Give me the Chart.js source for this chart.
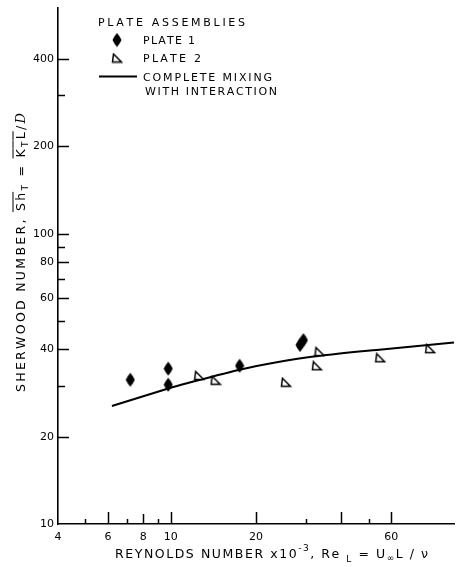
<!DOCTYPE html>
<html>
<head>
<meta charset="utf-8">
<script src="https://cdn.jsdelivr.net/npm/chart.js@4.4.0/dist/chart.umd.min.js"></script>
<style>
    html, body { margin: 0; padding: 0; background: #fff; }
    canvas { display: block; }
</style>
</head>
<body>
<canvas id="sherwood_canvas" width="462" height="567"></canvas>
<script>
// values (Re x 10^-3, Sh)
const plate_1_re = [7.2, 9.8, 9.8, 17.5, 28.6, 29.4];
const plate_1_sh = [31.4, 34.3, 30.2, 35.1, 41.4, 43.0];

const plate_2_re = [12.6, 14.4, 25.5, 32.8, 33.5, 54.9, 82.4];
const plate_2_sh = [32.5, 31.3, 30.8, 35.1, 39.3, 37.4, 40.2];

const mixing_re = [6.2, 9.8, 11.5, 17.5, 23.4, 33.1, 53.3, 100];
const mixing_sh = [25.5, 29.3, 30.6, 34.0, 36.0, 37.9, 39.8, 42.2];

const x_tick_values = [4, 5, 6, 7, 8, 9, 10, 20, 30, 40, 50, 60];
const x_tick_labels = [4, 6, 8, 10, 20, 60];
const y_tick_values = [10, 20, 30, 40, 50, 60, 70, 80, 90, 100, 200, 300, 400];
const y_tick_labels = [10, 20, 40, 60, 80, 100, 200, 400];

const text_font = "'DejaVu Sans', sans-serif";

function to_points(xs, ys) {
    return xs.map((x, i) => ({x: x, y: ys[i]}));
}

function make_diamond() {
    const c = document.createElement('canvas');
    c.width = 10;
    c.height = 15;
    const g = c.getContext('2d');
    g.beginPath();
    g.moveTo(5, 0.5);
    g.quadraticCurveTo(8, 4, 9.5, 7.5);
    g.quadraticCurveTo(8, 11, 5, 14.5);
    g.quadraticCurveTo(2, 11, 0.5, 7.5);
    g.quadraticCurveTo(2, 4, 5, 0.5);
    g.closePath();
    g.fillStyle = '#000';
    g.fill();
    return c;
}

function make_triangle() {
    const c = document.createElement('canvas');
    c.width = 12;
    c.height = 11;
    const g = c.getContext('2d');
    g.beginPath();
    g.moveTo(2.5, 1.5);
    g.lineTo(1.5, 9.5);
    g.lineTo(10.5, 9.5);
    g.closePath();
    g.fillStyle = '#fff';
    g.fill();
    g.strokeStyle = '#000';
    g.lineWidth = 1.5;
    g.stroke();
    return c;
}

const diamond_img = make_diamond();
const triangle_img = make_triangle();

// draws text segments char by char, spaced out so that the whole run spans `span` px
function draw_spaced(ctx, parts, x, y, span) {
    let plain = 0;
    let count = 0;
    for (const p of parts) {
        ctx.font = p.font;
        for (const ch of p.text) {
            plain += ctx.measureText(ch).width;
            count += 1;
        }
    }
    const gap = count > 1 ? (span - plain) / (count - 1) : 0;
    let cx = x;
    for (const p of parts) {
        ctx.font = p.font;
        const start = cx;
        for (const ch of p.text) {
            ctx.fillText(ch, cx, y + (p.dy || 0));
            cx += ctx.measureText(ch).width + gap;
        }
        if (p.over) {
            ctx.beginPath();
            ctx.moveTo(start - 1, y - 12);
            ctx.lineTo(cx - gap + 1, y - 12);
            ctx.stroke();
        }
    }
}

const sherwood_decorations = {
    id: 'sherwood_decorations',
    afterDraw(chart) {
        const ctx = chart.ctx;
        const area = chart.chartArea;
        const x_scale = chart.scales.x;
        const y_scale = chart.scales.y;

        ctx.save();
        ctx.strokeStyle = '#000';
        ctx.fillStyle = '#000';
        ctx.lineWidth = 1.5;

        // inward tick marks
        for (const v of x_tick_values) {
            if (v === x_scale.min) {continue;}
            let len = 5;
            if ([6, 10, 20, 40, 60].includes(v)) {len = 12;}
            if (v === 8) {len = 10;}
            const px = Math.round(x_scale.getPixelForValue(v)) + 0.5;
            ctx.beginPath();
            ctx.moveTo(px, area.bottom);
            ctx.lineTo(px, area.bottom - len);
            ctx.stroke();
        }
        for (const v of y_tick_values) {
            if (v === y_scale.min) {continue;}
            const len = y_tick_labels.includes(v) ? 11 : 7;
            const py = Math.round(y_scale.getPixelForValue(v)) + 0.5;
            ctx.beginPath();
            ctx.moveTo(area.left, py);
            ctx.lineTo(area.left + len, py);
            ctx.stroke();
        }

        // legend
        ctx.lineWidth = 1;
        ctx.textBaseline = 'alphabetic';
        const legend_font = "11px " + text_font;
        draw_spaced(ctx, [{text: 'PLATE ASSEMBLIES', font: legend_font}], 98, 26, 147);
        ctx.drawImage(diamond_img, 117 - diamond_img.width / 2, 40 - diamond_img.height / 2);
        draw_spaced(ctx, [{text: 'PLATE 1', font: legend_font}], 143, 44, 52);
        ctx.drawImage(triangle_img, 117 - triangle_img.width / 2, 58 - triangle_img.height / 2);
        draw_spaced(ctx, [{text: 'PLATE 2', font: legend_font}], 143, 62, 58);
        ctx.lineWidth = 2;
        ctx.beginPath();
        ctx.moveTo(99, 76.5);
        ctx.lineTo(137, 76.5);
        ctx.stroke();
        ctx.lineWidth = 1;
        draw_spaced(ctx, [{text: 'COMPLETE MIXING', font: legend_font}], 143, 81, 129);
        draw_spaced(ctx, [{text: 'WITH INTERACTION', font: legend_font}], 145, 95, 132);

        // x axis title
        const big = "12.5px " + text_font;
        const small = "9px " + text_font;
        draw_spaced(ctx, [
            {text: 'REYNOLDS NUMBER x10', font: big},
            {text: '-3', font: small, dy: -7},
            {text: ', Re ', font: big},
            {text: 'L', font: small, dy: 4},
            {text: ' = U', font: big},
            {text: '\u221e', font: small, dy: 3},
            {text: 'L / \u03bd', font: big}
        ], 115, 558, 313);

        // y axis title
        ctx.translate(25, 392);
        ctx.rotate(-Math.PI / 2);
        draw_spaced(ctx, [
            {text: 'SHERWOOD NUMBER, ', font: big},
            {text: 'Sh', font: big, over: true},
            {text: 'T', font: small, dy: 3},
            {text: ' = ', font: big},
            {text: 'K', font: big, over: true},
            {text: 'T', font: small, dy: 3, over: true},
            {text: 'L', font: big, over: true},
            {text: '/', font: big},
            {text: 'D', font: "italic 13px 'DejaVu Serif', serif"}
        ], 0, 0, 279);
        ctx.restore();
    }
};

let config = {
    type: 'scatter',
    data: {
        datasets: [
            {
                label: 'COMPLETE MIXING WITH INTERACTION',
                type: 'line',
                data: to_points(mixing_re, mixing_sh),
                borderColor: '#000',
                borderWidth: 2,
                pointRadius: 0,
                showLine: true,
                fill: false,
                tension: 0.3,
                order: 3
            },
            {
                label: 'PLATE 1',
                data: to_points(plate_1_re, plate_1_sh),
                pointStyle: diamond_img,
                pointRadius: 7,
                order: 1
            },
            {
                label: 'PLATE 2',
                data: to_points(plate_2_re, plate_2_sh),
                pointStyle: triangle_img,
                pointRadius: 6,
                order: 2
            }
        ]
    },
    options: {
        responsive: false,
        animation: false,
        devicePixelRatio: 1,
        layout: {padding: {top: 4, right: 0, bottom: 0, left: 0}},
        plugins: {
            legend: {display: false},
            tooltip: {enabled: false}
        },
        scales: {
            x: {
                type: 'logarithmic',
                min: 4,
                max: 100,
                afterBuildTicks: (scale) => { scale.ticks = x_tick_values.map(v => ({value: v})); },
                afterFit: (scale) => { scale.height = 43; scale.paddingRight = 0; },
                grid: {display: false, drawTicks: false},
                border: {display: true, color: '#000', width: 1.6},
                ticks: {
                    autoSkip: false,
                    maxRotation: 0,
                    padding: 7,
                    color: '#000',
                    font: {family: 'DejaVu Sans', size: 11},
                    callback: (v) => x_tick_labels.includes(v) ? String(v) : ''
                }
            },
            y: {
                type: 'logarithmic',
                min: 10,
                max: 600,
                afterBuildTicks: (scale) => { scale.ticks = y_tick_values.map(v => ({value: v})); },
                afterFit: (scale) => { scale.width = 58; scale.paddingTop = 0; },
                grid: {display: false, drawTicks: false},
                border: {display: true, color: '#000', width: 1.6},
                ticks: {
                    autoSkip: false,
                    padding: 4,
                    color: '#000',
                    font: {family: 'DejaVu Sans', size: 11},
                    callback: (v) => y_tick_labels.includes(v) ? String(v) : ''
                }
            }
        }
    },
    plugins: [sherwood_decorations]
};

const sherwood_plot = new Chart(
    document.getElementById('sherwood_canvas'),
    config
);
</script>
</body>
</html>
